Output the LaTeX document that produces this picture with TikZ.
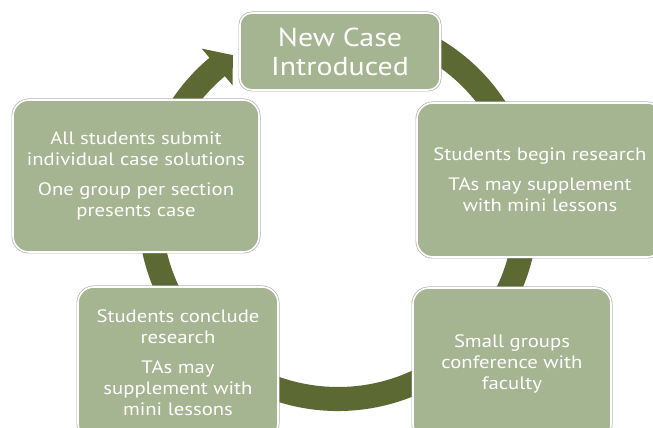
\documentclass[tikz,border=0pt]{standalone}
\usepackage{fontspec}
\setmainfont{PT Sans}[FakeStretch=1.15]
\definecolor{boxfill}{HTML}{A5B592}
\definecolor{ringc}{HTML}{5C6932}
\begin{document}
\begin{tikzpicture}[x=1pt,y=1pt,
  stage/.style={rectangle, rounded corners=16pt, fill=boxfill, draw=white,
    line width=1.6pt, preaction={draw=black!30, line width=3pt},
    text=white, align=center, inner sep=0pt,
    font=\fontsize{18}{21}\selectfont},
  ring/.style={fill=ringc}]
\useasboundingbox (0,0) rectangle (653,428);
\clip (0,0) rectangle (653,428);
\fill[white] (0,0) rectangle (653,428);
\coordinate (c) at (338,217);
\fill[ring, shift={(c)}] (62:200) arc[start angle=62, end angle=-230, radius=200]
  -- (130:212) -- (124:188) -- (130:164) -- (130:176)
  arc[start angle=-230, end angle=62, radius=176] -- cycle;
\node[stage, minimum width=200pt, minimum height=77pt, rounded corners=12pt,
  font=\fontsize{26}{29}\selectfont] (new) at (340,376.5) {New Case\\Introduced};
\node[stage, minimum width=246pt, minimum height=154pt] (begin) at (540,248)
  {Students begin research\\[9pt]TAs may supplement\\with mini lessons};
\node[stage, minimum width=198pt, minimum height=152pt] (conf) at (512,64)
  {Small groups\\conference with\\faculty};
\node[stage, minimum width=200pt, minimum height=152pt] (conclude) at (178,65)
  {Students conclude\\research\\[9pt]TAs may\\supplement with\\mini lessons};
\node[stage, minimum width=246pt, minimum height=152pt] (submit) at (136,252)
  {All students submit\\individual case solutions\\[9pt]One group per section\\presents case};
\end{tikzpicture}
\end{document}
